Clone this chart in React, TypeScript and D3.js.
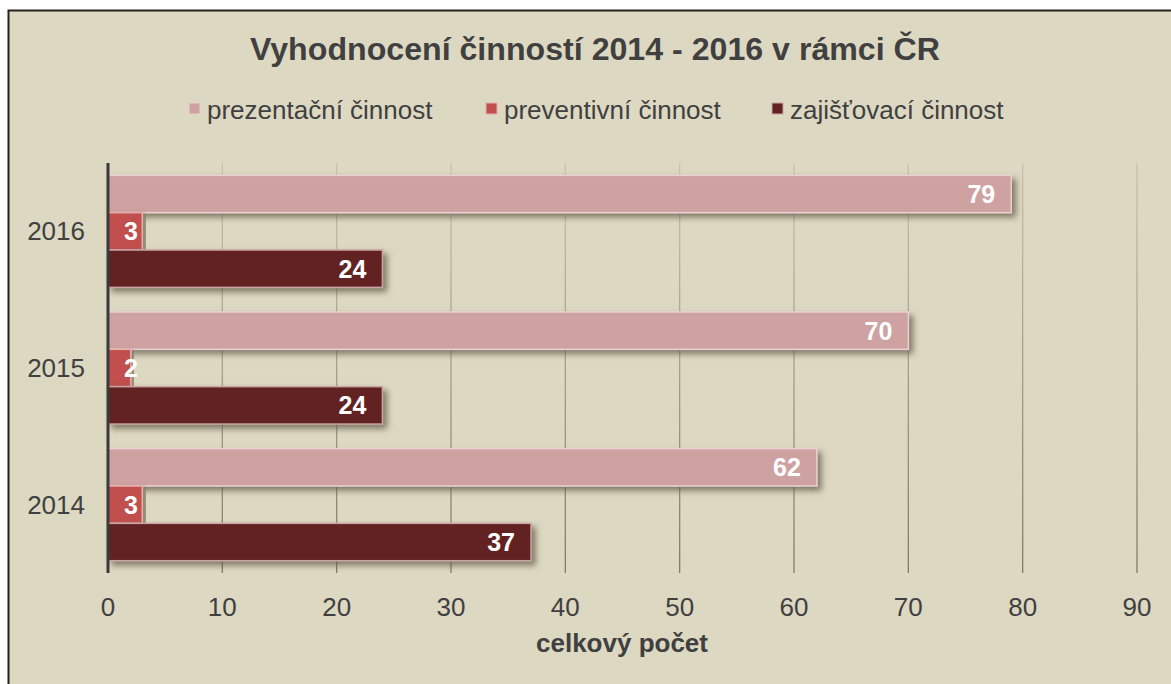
import React from 'react';
import * as d3 from 'd3';

const years = ['2016', '2015', '2014'];
const seriesNames = ['prezentační činnost', 'preventivní činnost', 'zajišťovací činnost'];
const prezentacni = [79, 70, 62];
const preventivni = [3, 2, 3];
const zajistovaci = [24, 24, 37];
const xTicks = [0, 10, 20, 30, 40, 50, 60, 70, 80, 90];
const colors = ['#cfa2a2', '#c0504d', '#632123'];
const strokes = ['#ead0d0', '#e6b0ae', '#c9a4a4'];

const W = 1171;
const H = 684;
const left = 108;
const right = 1137;
const top = 163;
const bottom = 573;
const font = 'Liberation Sans, Arial, sans-serif';

export default function App() {
  const x = d3.scaleLinear().domain([0, 90]).range([left, right]);
  const y = d3.scaleBand().domain(years).range([top, bottom]).paddingInner(0.18).paddingOuter(0.09);
  const sub = d3.scaleBand().domain(seriesNames).range([0, y.bandwidth()]);
  const series = [prezentacni, preventivni, zajistovaci];

  const legendX = [189, 486, 772];

  return (
    <svg width={W} height={H} style={{ position: 'absolute', left: 0, top: 0 }} fontFamily={font}>
      <defs>
        <filter id="sh" x="-5%" y="-30%" width="115%" height="180%">
          <feDropShadow dx={4} dy={4} stdDeviation={3} floodColor="#5e5a44" floodOpacity={0.75} />
        </filter>
        <linearGradient id="grid" gradientUnits="userSpaceOnUse" x1={0} y1={top} x2={0} y2={bottom}>
          <stop offset="0%" stopColor="#c6c2ad" />
          <stop offset="100%" stopColor="#7d7b6c" />
        </linearGradient>
      </defs>
      <rect x={0} y={0} width={W} height={H} fill="#ffffff" />
      <rect x={8.5} y={10.5} width={W + 20} height={H + 20} fill="#ddd8c2" stroke="#23231a" strokeWidth={2} />

      <text x={595} y={60} textAnchor="middle" fontSize={32} fontWeight="bold" fill="#404040" textLength={690} lengthAdjust="spacingAndGlyphs">
        Vyhodnocení činností 2014 - 2016 v rámci ČR
      </text>

      {seriesNames.map((s, i) => (
        <g key={s}>
          <rect x={legendX[i]} y={103} width={11} height={11} fill={colors[i]} stroke={strokes[i]} strokeWidth={1} />
          <text x={legendX[i] + 18} y={119} fontSize={26} fill="#404040">{s}</text>
        </g>
      ))}

      {xTicks.map(t => (
        <g key={t}>
          {t > 0 && <line x1={x(t)} x2={x(t)} y1={top} y2={bottom} stroke="url(#grid)" strokeWidth={1.3} />}
          <text x={x(t)} y={616} textAnchor="middle" fontSize={26} fill="#404040">{t}</text>
        </g>
      ))}

      {years.map((yr, i) => (
        <g key={yr}>
          {series.map((vals, j) => {
            const y0 = (y(yr) as number) + (sub(seriesNames[j]) as number);
            const h = sub.bandwidth();
            const xe = x(vals[i]);
            const tx = Math.max(xe - 16, left + 30);
            return (
              <g key={j}>
                <rect x={left} y={y0} width={xe - left} height={h} fill={colors[j]} stroke={strokes[j]} strokeWidth={1.5} filter="url(#sh)" />
                <text x={tx} y={y0 + h / 2 + 9} textAnchor="end" fontSize={25} fontWeight="bold" fill="#ffffff">{vals[i]}</text>
              </g>
            );
          })}
          <text x={85} y={(y(yr) as number) + y.bandwidth() / 2 + 9} textAnchor="end" fontSize={26} fill="#404040">{yr}</text>
        </g>
      ))}

      <line x1={left} x2={left} y1={top} y2={bottom} stroke="#3a3a3a" strokeWidth={3} />

      <text x={622} y={652} textAnchor="middle" fontSize={26} fontWeight="bold" fill="#404040">celkový počet</text>
    </svg>
  );
}
